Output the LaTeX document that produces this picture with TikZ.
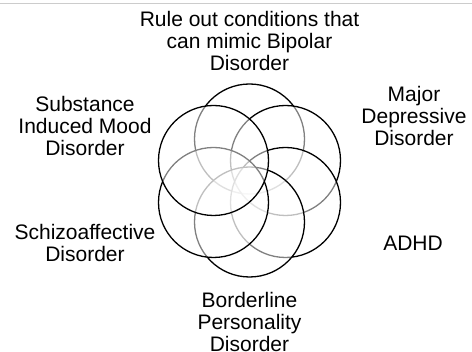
\documentclass[tikz,border=0pt]{standalone}
\usepackage{fontspec}
\setmainfont{Liberation Sans}
\begin{document}
\begin{tikzpicture}[x=1pt,y=-1pt,
  ring/.style={circle,draw=black,line width=1.3pt,fill=white,fill opacity=0.5,minimum size=110pt,inner sep=0pt},
  lab/.style={align=center,inner sep=0pt,font=\fontsize{21pt}{22pt}\selectfont}]
\useasboundingbox (0,0) rectangle (472,352);
\draw[gray!40,line width=1pt] (0,4) coordinate (tl) -- (472,4) coordinate (tr);
\node[ring] (c1) at (249.5,139) {};
\node[ring] (c2) at (285.5,160.5) {};
\node[ring] (c3) at (285.5,202.5) {};
\node[ring] (c4) at (249.5,222) {};
\node[ring] (c5) at (213.5,202.5) {};
\node[ring] (c6) at (213.5,160.5) {};
\node[lab] (t1) at (249.5,41) {Rule out conditions that\\can mimic Bipolar\\Disorder};
\node[lab] (t2) at (414,116) {Major\\Depressive\\Disorder};
\node[lab] (t3) at (413,243) {ADHD};
\node[lab] (t4) at (249.5,322) {Borderline\\Personality\\Disorder};
\node[lab] (t5) at (85,243) {Schizoaffective\\Disorder};
\node[lab] (t6) at (85,126) {Substance\\Induced Mood\\Disorder};
\end{tikzpicture}
\end{document}
